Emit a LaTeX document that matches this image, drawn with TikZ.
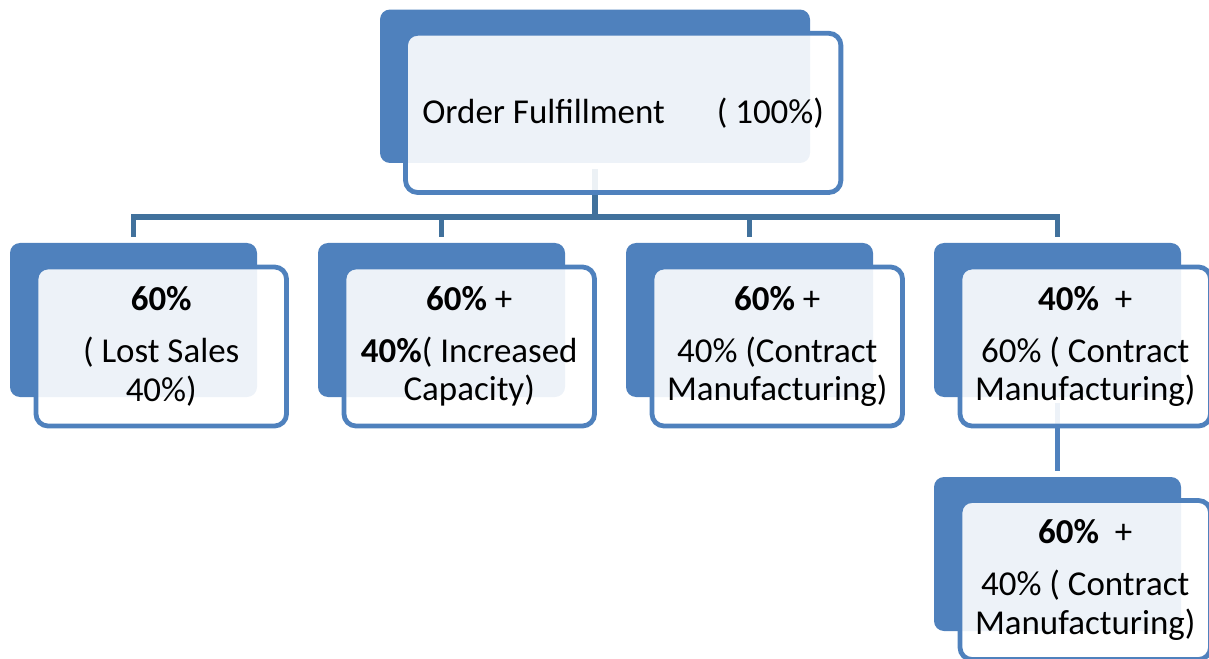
\documentclass[tikz,border=0pt]{standalone}
\usepackage{fontspec}
\setmainfont{Carlito}
\usepackage{tikz}
\usetikzlibrary{positioning,calc}
\definecolor{boxblue}{HTML}{4F81BD}
\definecolor{linkblue}{HTML}{41719C}

\begin{document}
\begin{tikzpicture}[x=0.75pt, y=-0.75pt,
    back/.style={fill=boxblue, rounded corners=7.5pt, inner sep=0pt,
        minimum width=185.25pt, minimum height=115.5pt},
    front/.style={draw=boxblue, line width=3.6pt, fill=white, fill opacity=0.9,
        text opacity=1, rounded corners=9pt, inner sep=0pt, align=center,
        minimum width=187.9pt, minimum height=119.25pt,
        font=\fontsize{26.2}{28.9}\selectfont},
    link/.style={draw=linkblue, line width=4.2pt, shorten >=4.5pt},
]
\useasboundingbox (0,0) rectangle (1209,659);

% Back boxes
\node [back, minimum width=322.5pt, minimum height=115.1pt] (orderback) at (595, 86.25) {};
\node [back] (lostback) at (133.5, 320) {};
\node [back] (capaback) at (441.5, 320) {};
\node [back] (cmoneback) at (749.5, 320) {};
\node [back] (cmtwoback) at (1057.5, 320) {};
\node [back] (cmthreeback) at (1057.5, 554) {};

% Connectors
\coordinate (bus) at (595, 217);
\draw [link, shorten <=4.5pt, shorten >=0pt] (orderback.south) -- (bus);
\draw [link] (bus) -| (lostback.north);
\draw [link] (bus) -| (capaback.north);
\draw [link] (bus) -| (cmoneback.north);
\draw [link] (bus) -| (cmtwoback.north);
\draw [link, draw=boxblue, shorten <=4.5pt] (cmtwoback.south) -- (cmthreeback.north);

% Front boxes
\node [front, minimum width=326.5pt, minimum height=119.4pt] (order) at (623.2, 112.9)
    {Order Fulfillment\hspace{39pt}( 100\%)};
\node [front] (lost) at (161.25, 346.5)
    {\textbf{60\%}\\[10pt]( Lost Sales\\40\%)};
\node [front] (capa) at (469.25, 346.5)
    {\textbf{60\%} +\\[10pt]\textbf{40\%}( Increased\\Capacity)};
\node [front] (cmone) at (777.25, 346.5)
    {\textbf{60\%} +\\[10pt]40\% (Contract\\Manufacturing)};
\node [front] (cmtwo) at (1085.25, 346.5)
    {\textbf{40\%}~~+\\[10pt]60\% ( Contract\\Manufacturing)};
\node [front] (cmthree) at (1085.25, 580)
    {\textbf{60\%}~~+\\[10pt]40\% ( Contract\\Manufacturing)};
\end{tikzpicture}
\end{document}
